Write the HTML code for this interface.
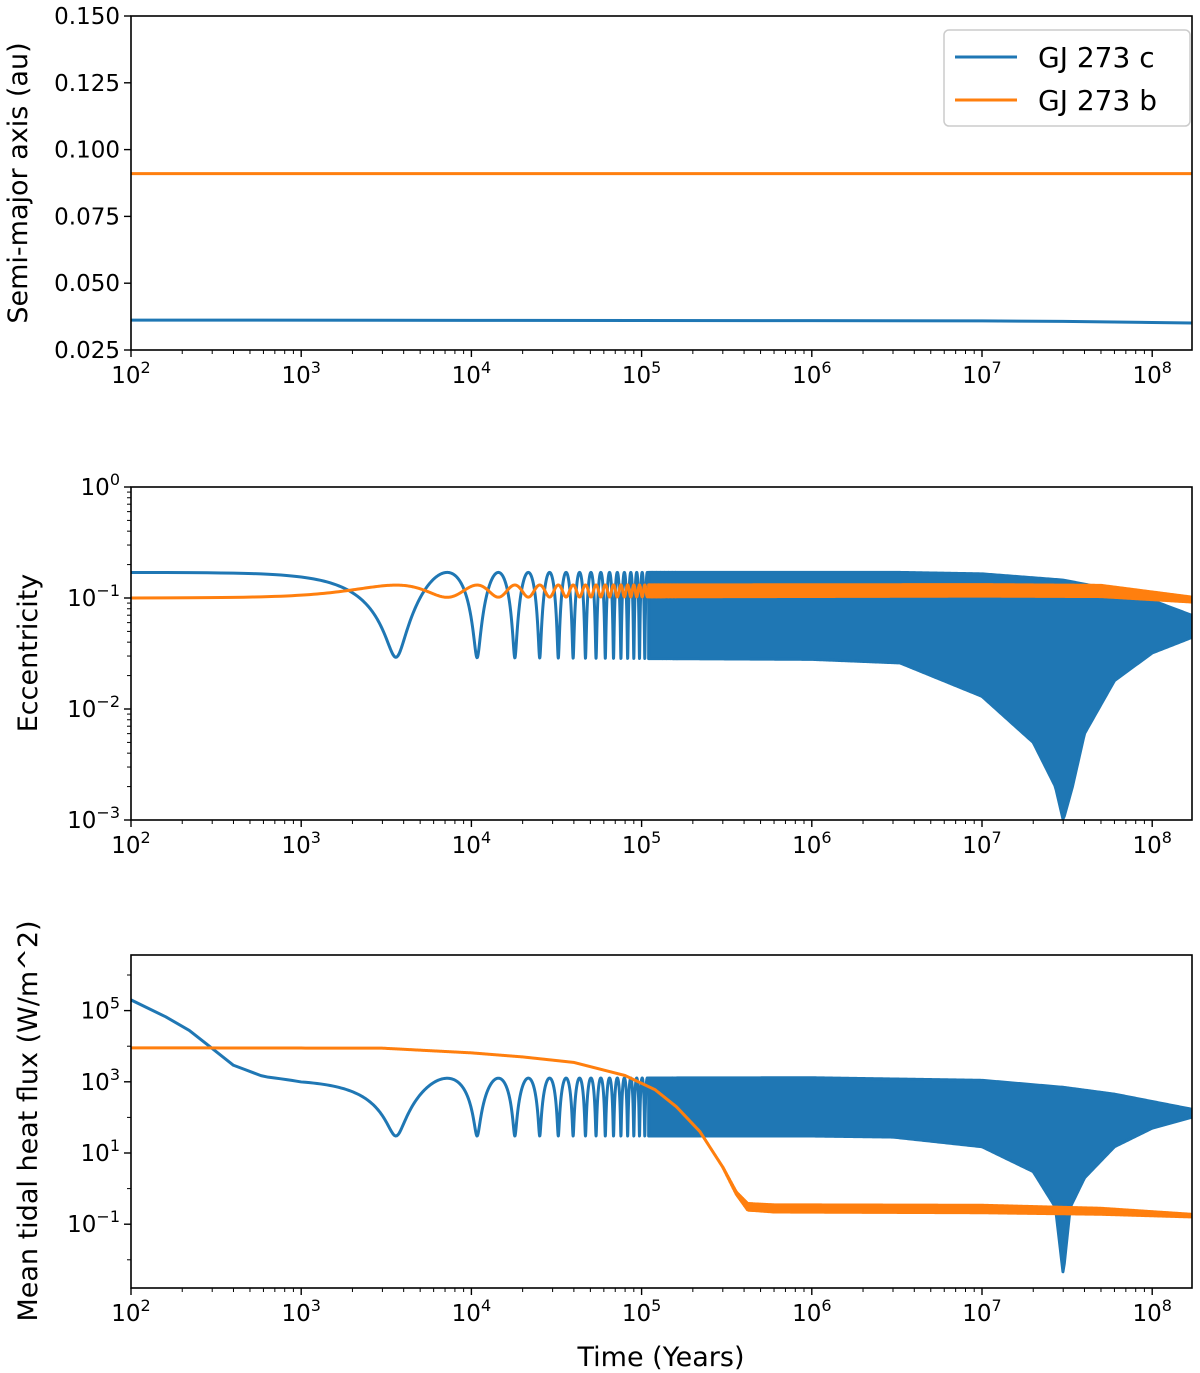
<!DOCTYPE html>
<html><head><meta charset="utf-8"><style>
body{margin:0;background:#fff;}
svg{display:block;font-family:"DejaVu Sans","Liberation Sans",sans-serif;}
</style></head><body>
<svg id="chart" width="1200" height="1373" xmlns="http://www.w3.org/2000/svg"></svg>
<script>
// ---- data ----
const xDecades = [2,3,4,5,6,7,8];
const semiTimes = [100, 1e4, 1e6, 1e7, 3e7, 1e8, 1.7e8];
const semiC = [0.0362, 0.0361, 0.0360, 0.0359, 0.0357, 0.0353, 0.0351];
const semiB = [0.0910, 0.0910, 0.0910, 0.0910, 0.0910, 0.0910, 0.0910];
const oscPeriod = 7200;
// eccentricity envelopes (time, value)
const eccCHiT = [100, 1e6, 3.3e6, 1e7, 3e7, 6e7, 1e8, 1.7e8];
const eccCHi  = [0.17, 0.17, 0.17, 0.165, 0.145, 0.118, 0.095, 0.07];
const eccCLoT = [100, 1e6, 3.3e6, 1e7, 2e7, 2.7e7, 3e7, 3.4e7, 4e7, 6e7, 1e8, 1.7e8];
const eccCLo  = [0.03, 0.028, 0.026, 0.013, 0.005, 0.002, 0.001, 0.002, 0.006, 0.018, 0.032, 0.044];
const eccBHiT = [100, 1e7, 5e7, 1.7e8];
const eccBHi  = [0.13, 0.132, 0.13, 0.102];
const eccBLoT = [100, 1e7, 5e7, 1.7e8];
const eccBLo  = [0.1, 0.104, 0.103, 0.092];
// heat flux envelopes
const fluxCHiT = [100, 200, 400, 600, 1000, 3000, 1e6, 1e7, 3e7, 6e7, 1.7e8];
const fluxCHi  = [2e5, 4e4, 3e3, 1.5e3, 1.2e3, 1.25e3, 1.3e3, 1.1e3, 700, 450, 170];
const fluxCLoT = [100, 1e6, 3e6, 1e7, 2e7, 2.7e7, 3e7, 3.3e7, 4e7, 6e7, 1e8, 1.7e8];
const fluxCLo  = [30, 30, 28, 15, 3, 0.3, 0.004, 0.3, 2, 15, 50, 100];
const fluxBT = [100, 3000, 1e4, 2e4, 4e4, 8e4, 1.2e5, 1.6e5, 2.2e5, 3e5, 3.6e5, 4.2e5, 6e5, 1e7, 5e7, 1.7e8];
const fluxBHi = [9e3, 8.8e3, 6.5e3, 5e3, 3.5e3, 1.5e3, 600, 200, 40, 4, 0.8, 0.38, 0.35, 0.34, 0.28, 0.19];
const fluxBLo = [9e3, 8.8e3, 6.5e3, 5e3, 3.5e3, 1.5e3, 600, 200, 40, 4, 0.7, 0.25, 0.22, 0.21, 0.19, 0.16];
const semiTicks = [0.025,0.05,0.075,0.1,0.125,0.15];
const semiTickLabels = ["0.025","0.050","0.075","0.100","0.125","0.150"];
const eccTicks = [-3,-2,-1,0];
const fluxTicks = [-1,1,3,5];

// ---- layout ----
const NS="http://www.w3.org/2000/svg";
const svg=document.getElementById('chart');
const L=131,R=1192;
const panels=[{top:16,bot:350},{top:487,bot:820},{top:955,bot:1288}];
const BLUE="#1f77b4",ORANGE="#ff7f0e";
function X(t){return L+170.2*(Math.log10(t)-2);}
function Y1(v){return 350-(v-0.025)/0.125*334;}
function Y2(v){return 487-Math.log10(v)*111;}
function Y3(v){return 1153-(Math.log10(v)-1)*35.6;}
function mk(tag,attrs,parent){const e=document.createElementNS(NS,tag);for(const k in attrs)e.setAttribute(k,attrs[k]);(parent||svg).appendChild(e);return e;}
function interp(ts,vs,t){const lt=Math.log10(t);if(t<=ts[0])return vs[0];for(let i=1;i<ts.length;i++){if(t<=ts[i]){const a=Math.log10(ts[i-1]),b=Math.log10(ts[i]);const f=(lt-a)/(b-a);return Math.pow(10,Math.log10(vs[i-1])+f*(Math.log10(vs[i])-Math.log10(vs[i-1])));}}return vs[vs.length-1];}
function tMax(){return Math.pow(10,2+(R-L)/170.2);}

const defs=mk('defs',{});
panels.forEach((p,i)=>{const c=mk('clipPath',{id:'clip'+i},defs);mk('rect',{x:L,y:p.top,width:R-L,height:p.bot-p.top},c);});

function times(t0,t1,dt){const a=[];for(let t=t0;t<t1;t+=dt)a.push(t);a.push(t1);return a;}
function oscVal(hiT,hi,loT,lo,t,phaseShift,mode){
  const h=interp(hiT,hi,t),l=interp(loT,lo,t);
  let c=Math.cos(Math.PI*t/oscPeriod+phaseShift);c=c*c;
  if(mode==='sq')return Math.sqrt(l*l+(h*h-l*l)*c);
  return l+(h-l)*c;
}
function drawOsc(g,Y,hiT,hi,loT,lo,phase,mode,color,name,tSwitch){
  const ts=times(100,tSwitch*1.5,oscPeriod/120);
  let d='';ts.forEach((t,i)=>{d+=(i?'L':'M')+X(t).toFixed(2)+','+Y(oscVal(hiT,hi,loT,lo,t,phase,mode)).toFixed(2);});
  const line=mk('path',{d:d,fill:'none',stroke:color,'stroke-width':3,'stroke-linejoin':'round'},g);
  
  
  const N=400;const up=[],dn=[];
  for(let i=0;i<=N;i++){const lt=Math.log10(tSwitch)+(Math.log10(tMax())-Math.log10(tSwitch))*i/N;const t=Math.pow(10,lt);up.push([X(t),Y(interp(hiT,hi,t))]);dn.push([X(t),Y(interp(loT,lo,t))]);}
  let bd='M'+up.map(p=>p[0].toFixed(2)+','+p[1].toFixed(2)).join('L')+'L'+dn.reverse().map(p=>p[0].toFixed(2)+','+p[1].toFixed(2)).join('L')+'Z';
  const band=mk('path',{d:bd,fill:color,stroke:color,'stroke-width':3,'stroke-linejoin':'round'},g);
  
  
}

const g1=mk('g',{'clip-path':'url(#clip0)'});


function simpleLine(g,ts,vs,Y,color,name){let d='';ts.forEach((t,i)=>{d+=(i?'L':'M')+X(t).toFixed(2)+','+Y(vs[i]).toFixed(2);});const p=mk('path',{d:d,fill:'none',stroke:color,'stroke-width':3},g);}
simpleLine(g1,semiTimes,semiC,Y1,BLUE,'gj273c-semi-major-line');
simpleLine(g1,semiTimes,semiB,Y1,ORANGE,'gj273b-semi-major-line');

const g2=mk('g',{'clip-path':'url(#clip1)'});


drawOsc(g2,Y2,eccCHiT,eccCHi,eccCLoT,eccCLo,0,'sq',BLUE,'gj273c-eccentricity',1.1e5);
drawOsc(g2,Y2,eccBHiT,eccBHi,eccBLoT,eccBLo,Math.PI/2,'lin',ORANGE,'gj273b-eccentricity',1.1e5);

const g3=mk('g',{'clip-path':'url(#clip2)'});


drawOsc(g3,Y3,fluxCHiT,fluxCHi,fluxCLoT,fluxCLo,0,'lin',BLUE,'gj273c-heat-flux',1.1e5);
drawOsc(g3,Y3,fluxBT,fluxBHi,fluxBT,fluxBLo,Math.PI/2,'lin',ORANGE,'gj273b-heat-flux',3e5);

panels.forEach((p,i)=>{
  const f=mk('rect',{x:L,y:p.top,width:R-L,height:p.bot-p.top,fill:'none',stroke:'#000','stroke-width':1.6});
  
  
  xDecades.forEach(e=>{
    const x=X(Math.pow(10,e));
    mk('line',{x1:x,x2:x,y1:p.bot,y2:p.bot+7,stroke:'#000','stroke-width':1.4});
    const t=mk('text',{x:x,y:p.bot+33,'font-size':23,'text-anchor':'middle'});
    
    
    t.innerHTML='10<tspan dy="-10" font-size="16">'+e+'</tspan>';
    for(let m=2;m<10;m++){const xm=X(m*Math.pow(10,e));if(xm<R)mk('line',{x1:xm,x2:xm,y1:p.bot,y2:p.bot+4,stroke:'#000','stroke-width':1});}
  });
});
semiTicks.forEach((v,i)=>{const y=Y1(v);mk('line',{x1:L-7,x2:L,y1:y,y2:y,stroke:'#000','stroke-width':1.4});
  const t=mk('text',{x:L-11,y:y+8,'font-size':23,'text-anchor':'end'});t.textContent=semiTickLabels[i];
  
  });
eccTicks.forEach(e=>{const y=Y2(Math.pow(10,e));mk('line',{x1:L-7,x2:L,y1:y,y2:y,stroke:'#000','stroke-width':1.4});
  const t=mk('text',{x:L-11,y:y+8,'font-size':23,'text-anchor':'end'});t.innerHTML='10<tspan dy="-10" font-size="16">'+(e<0?'\u2212'+(-e):e)+'</tspan>';
  
  
  if(e<0)for(let m=2;m<10;m++){const ym=Y2(m*Math.pow(10,e));mk('line',{x1:L-4,x2:L,y1:ym,y2:ym,stroke:'#000','stroke-width':1});}});
fluxTicks.forEach(e=>{const y=Y3(Math.pow(10,e));mk('line',{x1:L-7,x2:L,y1:y,y2:y,stroke:'#000','stroke-width':1.4});
  const t=mk('text',{x:L-11,y:y+8,'font-size':23,'text-anchor':'end'});t.innerHTML='10<tspan dy="-10" font-size="16">'+(e<0?'\u2212'+(-e):e)+'</tspan>';
  
  });
[-2,0,2,4,6].forEach(e=>{const y=Y3(Math.pow(10,e));if(y>955&&y<1288)mk('line',{x1:L-4,x2:L,y1:y,y2:y,stroke:'#000','stroke-width':1});});

function title(txt,x,y,rot,name){const t=mk('text',{x:x,y:y,'font-size':27,'text-anchor':'middle',transform:rot?'rotate(-90 '+x+' '+y+')':''});t.textContent=txt;
  
  }
title('Semi-major axis (au)',27,183,true,'y-axis-title-semi-major');
title('Eccentricity',37,653,true,'y-axis-title-eccentricity');
title('Mean tidal heat flux (W/m^2)',37,1121,true,'y-axis-title-heat-flux');
title('Time (Years)',661,1366,false,'x-axis-title');

const lg=mk('g',{});


mk('rect',{x:944,y:30,width:246,height:96,rx:5,fill:'#fff',stroke:'#ccc','stroke-width':1.5},lg);
[[BLUE,'GJ 273 c',57],[ORANGE,'GJ 273 b',100]].forEach(([c,txt,y])=>{
  const ln=mk('line',{x1:955,x2:1017,y1:y,y2:y,stroke:c,'stroke-width':3},lg);
  
  
  const t=mk('text',{x:1038,y:y+10,'font-size':28},lg);t.textContent=txt;
  
  
});
</script>
</body></html>
